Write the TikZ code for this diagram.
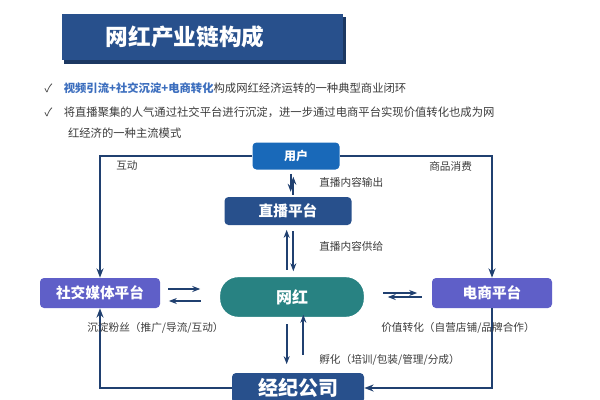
\documentclass[tikz,border=0pt]{standalone}
\usepackage{fontspec}
\setmainfont{Noto Sans CJK SC}
\usepackage{tikz}
\usetikzlibrary{arrows.meta}
\definecolor{navy}{RGB}{40,80,140}
\definecolor{userblue}{RGB}{25,105,185}
\definecolor{purp}{RGB}{95,95,200}
\definecolor{teal2}{RGB}{40,130,130}
\definecolor{hl}{RGB}{60,110,190}
\definecolor{txt}{RGB}{60,60,60}
\tikzset{
  box/.style={rounded corners=3pt,text=white,font=\bfseries,inner sep=0pt},
  loop/.style={draw=navy!80!black,line width=1.4pt,-{Stealth[length=7pt]}},
  pair/.style={draw=navy!80!black,line width=1.6pt,-{Stealth[length=6pt]}},
  lbl/.style={font=\fontsize{8}{9}\selectfont,text=txt,anchor=west,inner sep=0.75pt}
}
\begin{document}
\begin{tikzpicture}[x=0.75pt,y=0.75pt,yscale=-1,xscale=1]
  \useasboundingbox (0,0) rectangle (600,400);
  \fill[white] (0,0) rectangle (600,400);

  %Title banner
  \fill[navy!70!black] (64,17) rectangle (346,64);
  \fill[navy] (62,14) rectangle (343,60);
  \node[text=white,font=\fontsize{17}{20}\selectfont\bfseries] (title) at (185,37) {网红产业链构成};

  % Bullet text
  \node[anchor=west,font=\fontsize{8.5}{10}\selectfont,text=txt] (b1) at (40,88) {✓\quad\textcolor{hl}{\textbf{视频引流+社交沉淀+电商转化}}构成网红经济运转的一种典型商业闭环};
  \node[anchor=west,font=\fontsize{8.5}{10}\selectfont,text=txt] (b2) at (40,112) {✓\quad 将直播聚集的人气通过社交平台进行沉淀，进一步通过电商平台实现价值转化也成为网};
  \node[anchor=west,font=\fontsize{8.5}{10}\selectfont,text=txt] (b3) at (52,133) {\quad 红经济的一种主流模式};

  %Nodes
  \node[box,fill=userblue,minimum width=87pt*0.75,minimum height=27pt*0.75,font=\fontsize{9}{10}\selectfont\bfseries] (user) at (296,156) {用户};
  \node[box,fill=navy,minimum width=127pt*0.75,minimum height=28pt*0.75,font=\fontsize{11}{12}\selectfont\bfseries] (live) at (288,211) {直播平台};
  \node[box,fill=teal2,draw=white,line width=1pt,rounded corners=14pt,minimum width=145pt*0.75,minimum height=41pt*0.75,font=\fontsize{12}{13}\selectfont\bfseries] (wh) at (292,297) {网红};
  \node[box,fill=purp,minimum width=120pt*0.75,minimum height=30pt*0.75,font=\fontsize{11}{12}\selectfont\bfseries] (social) at (100,293) {社交媒体平台};
  \node[box,fill=purp,minimum width=120pt*0.75,minimum height=30pt*0.75,font=\fontsize{11}{12}\selectfont\bfseries] (shop) at (492,293) {电商平台};
  \node[box,fill=navy,minimum width=132pt*0.75,minimum height=30pt*0.75,font=\fontsize{15}{16}\selectfont\bfseries] (agency) at (298,388) {经纪公司};

  %Loop connectors
  \draw[loop] (user.west) -| (social.north);
  \draw[loop] (user.east) -| (shop.north);
  \draw[loop] (agency.west) -| (social.south);
  \draw[loop] (shop.south) |- (agency.east);

  %Double arrows
  \draw[pair] ([xshift=-4pt]user.south) ++(0,4) coordinate (u1) -- ++(0,18);
  \draw[pair] ([xshift=4pt]live.north) ++(0,-2) coordinate (u2) -- ++(0,-18);
  \draw[pair] ([xshift=-4pt]wh.north) ++(0,-6) coordinate (l1) -- ++(0,-40);
  \draw[pair] ([xshift=4pt]live.south) ++(0,6) coordinate (l2) -- ++(0,40);
  \draw[pair] ([xshift=-4pt]wh.south) ++(0,6) coordinate (a1) -- ++(0,40);
  \draw[pair] ([xshift=4pt]agency.north) ++(0,-18) coordinate (a2) -- ++(0,-40);
  \draw[pair] (social.east) ++(8,-4) coordinate (s1) -- ++(32,0);
  \draw[pair] (wh.west) ++(-18,4) coordinate (s2) -- ++(-32,0);
  \draw[pair] (wh.east) ++(18,-4) coordinate (e1) -- ++(34,0);
  \draw[pair] (shop.west) ++(-10,4) coordinate (e2) -- ++(-34,0);

  % Text labels
  \node[lbl] (l-hd) at (115,166) {互动};
  \node[lbl] (l-sp) at (428,166) {商品消费};
  \node[lbl] (l-sc) at (318,182) {直播内容输出};
  \node[lbl] (l-gj) at (318,246) {直播内容供给};
  \node[lbl] (l-cd) at (86,328) {沉淀粉丝（推广/导流/互动）};
  \node[lbl] (l-jz) at (380,328) {价值转化（自营店铺/品牌合作）};
  \node[lbl] (l-fh) at (318,360) {孵化（培训/包装/管理/分成）};
\end{tikzpicture}
\end{document}
